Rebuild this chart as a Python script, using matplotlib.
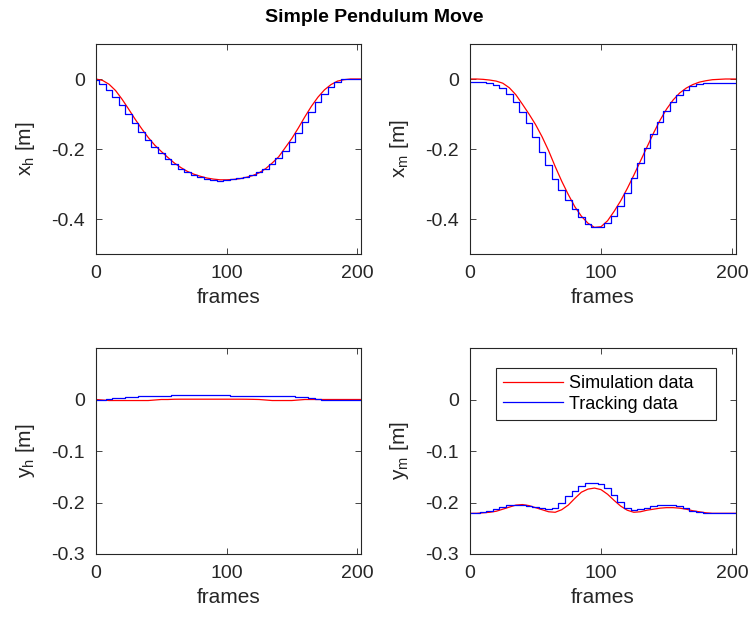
import matplotlib
matplotlib.use("Agg")
from matplotlib import pyplot as plt

plt.rcParams['font.family'] = ['Liberation Sans', 'DejaVu Sans']
plt.rcParams['axes.unicode_minus'] = False

frames = [0, 5, 10, 15, 20, 25, 30, 35, 40, 45, 50, 55, 60, 65, 70, 75, 80, 85, 90, 95,
          100, 105, 110, 115, 120, 125, 130, 135, 140, 145, 150, 155, 160, 165, 170, 175,
          180, 185, 190, 195, 200, 203]

# x_h
xh_sim = [0.0, -0.004, -0.015, -0.033, -0.058, -0.086, -0.115, -0.142, -0.167, -0.189,
          -0.207, -0.224, -0.240, -0.253, -0.264, -0.272, -0.278, -0.283, -0.286, -0.288,
          -0.288, -0.287, -0.285, -0.281, -0.276, -0.268, -0.256, -0.240, -0.222, -0.196,
          -0.170, -0.140, -0.108, -0.078, -0.052, -0.031, -0.016, -0.006, -0.002, 0.0,
          0.0, 0.0]
xh_trk = [-0.003, -0.015, -0.030, -0.050, -0.075, -0.100, -0.127, -0.152, -0.175, -0.195,
          -0.212, -0.228, -0.243, -0.256, -0.266, -0.275, -0.281, -0.286, -0.289, -0.290,
          -0.289, -0.287, -0.284, -0.280, -0.274, -0.266, -0.256, -0.243, -0.226, -0.205,
          -0.180, -0.153, -0.124, -0.094, -0.066, -0.042, -0.022, -0.008, -0.001, 0.0,
          0.0, 0.0]

# x_m
xm_sim = [0.0, 0.0, -0.001, -0.003, -0.006, -0.012, -0.025, -0.045, -0.072, -0.100,
          -0.130, -0.165, -0.205, -0.250, -0.292, -0.330, -0.365, -0.392, -0.412, -0.424,
          -0.422, -0.405, -0.378, -0.348, -0.313, -0.275, -0.235, -0.195, -0.155, -0.118,
          -0.086, -0.060, -0.040, -0.026, -0.016, -0.009, -0.005, -0.002, -0.001, 0.0,
          0.0, 0.0]
xm_trk = [-0.008, -0.008, -0.009, -0.012, -0.018, -0.027, -0.042, -0.065, -0.094, -0.125,
          -0.165, -0.208, -0.247, -0.285, -0.318, -0.345, -0.372, -0.395, -0.413, -0.424,
          -0.423, -0.412, -0.392, -0.362, -0.325, -0.282, -0.240, -0.198, -0.158, -0.122,
          -0.092, -0.066, -0.046, -0.031, -0.021, -0.015, -0.012, -0.011, -0.010, -0.010,
          -0.010, -0.010]

# y_h
yh_sim = [0.0, -0.001, -0.002, -0.002, -0.002, -0.002, -0.002, -0.002, -0.002, -0.001,
          0.0, 0.0, 0.0005, 0.0006, 0.0006, 0.0006, 0.0006, 0.0006, 0.0006, 0.0006,
          0.0006, 0.0006, 0.0006, 0.0005, 0.0003, 0.0, -0.001, -0.002, -0.002, -0.002,
          -0.002, -0.001, 0.0, 0.0, 0.0, 0.0, 0.0, 0.0, 0.0, 0.0,
          0.0, 0.0]
yh_trk = [0.0, 0.0, 0.001, 0.002, 0.003, 0.004, 0.005, 0.006, 0.006, 0.006,
          0.007, 0.007, 0.008, 0.008, 0.008, 0.008, 0.008, 0.008, 0.008, 0.008,
          0.008, 0.0075, 0.007, 0.007, 0.0065, 0.0065, 0.0065, 0.006, 0.0065, 0.0065,
          0.006, 0.005, 0.004, 0.002, 0.001, 0.0, 0.0, 0.0, 0.0, 0.0,
          0.0, 0.0]

# y_m
ym_sim = [-0.221, -0.221, -0.220, -0.219, -0.217, -0.213, -0.209, -0.205, -0.204, -0.206,
          -0.210, -0.214, -0.218, -0.219, -0.214, -0.205, -0.192, -0.180, -0.174, -0.172,
          -0.175, -0.184, -0.196, -0.207, -0.215, -0.219, -0.218, -0.215, -0.213, -0.211,
          -0.210, -0.210, -0.211, -0.213, -0.216, -0.218, -0.220, -0.221, -0.221, -0.221,
          -0.221, -0.221]
ym_trk = [-0.221, -0.220, -0.219, -0.216, -0.212, -0.208, -0.205, -0.204, -0.205, -0.207,
          -0.209, -0.211, -0.213, -0.210, -0.200, -0.188, -0.177, -0.168, -0.163, -0.162,
          -0.164, -0.172, -0.185, -0.199, -0.210, -0.215, -0.213, -0.210, -0.207, -0.205,
          -0.204, -0.205, -0.207, -0.211, -0.216, -0.219, -0.220, -0.221, -0.221, -0.221,
          -0.221, -0.221]

panels = [
    (xh_sim, xh_trk, 'x$_\\mathregular{h}$ [m]', (-0.5, 0.1), [-0.4, -0.2, 0], ['-0.4', '-0.2', '0']),
    (xm_sim, xm_trk, 'x$_\\mathregular{m}$ [m]', (-0.5, 0.1), [-0.4, -0.2, 0], ['-0.4', '-0.2', '0']),
    (yh_sim, yh_trk, 'y$_\\mathregular{h}$ [m]', (-0.3, 0.1), [-0.3, -0.2, -0.1, 0], ['-0.3', '-0.2', '-0.1', '0']),
    (ym_sim, ym_trk, 'y$_\\mathregular{m}$ [m]', (-0.3, 0.1), [-0.3, -0.2, -0.1, 0], ['-0.3', '-0.2', '-0.1', '0']),
]

W, H = 749, 618
fig = plt.figure(figsize=(W / 100, H / 100), dpi=100)
boxes = [(96, 44, 361, 254), (470, 44, 736, 254), (96, 348, 361, 554), (470, 348, 736, 554)]
dark = '#262626'

for i, (sim, trk, lab, ylim, yt, ytl) in enumerate(panels):
    x0, y0, x1, y1 = boxes[i]
    ax = fig.add_axes([x0 / W, 1 - y1 / H, (x1 - x0) / W, (y1 - y0) / H])
    ax.plot(frames, sim, color='#ff0000', lw=0.9, label='Simulation data')
    ax.plot(frames, trk, color='#0000ff', lw=0.9, drawstyle='steps-mid', label='Tracking data')
    ax.set_xlim(0, 203)
    ax.set_ylim(*ylim)
    ax.set_xticks([0, 100, 200])
    ax.set_yticks(yt)
    ax.set_yticklabels(ytl)
    ax.tick_params(direction='in', top=True, right=True, length=4, width=0.6,
                   color=dark, labelcolor=dark, labelsize=14, pad=8)
    for s in ax.spines.values():
        s.set_color(dark)
        s.set_linewidth(0.8)
    ax.set_xlabel('frames', fontsize=15, color=dark, labelpad=4)
    ax.set_ylabel(lab, fontsize=15, color=dark, labelpad=10)
    if i == 3:
        leg = ax.legend(loc='upper left', bbox_to_anchor=(0.098, 0.646, 0.827, 0.257),
                        mode='expand', borderaxespad=0,
                        fontsize=13, handlelength=3.3, fancybox=False, framealpha=1,
                        edgecolor=dark, borderpad=0.4, labelspacing=0.2, handletextpad=0.35)
        leg.get_frame().set_linewidth(0.8)

fig.suptitle('Simple Pendulum Move', fontsize=14, fontweight='bold', y=1 - 18 / H, va='center')
fig.savefig('out.png', dpi=100)
